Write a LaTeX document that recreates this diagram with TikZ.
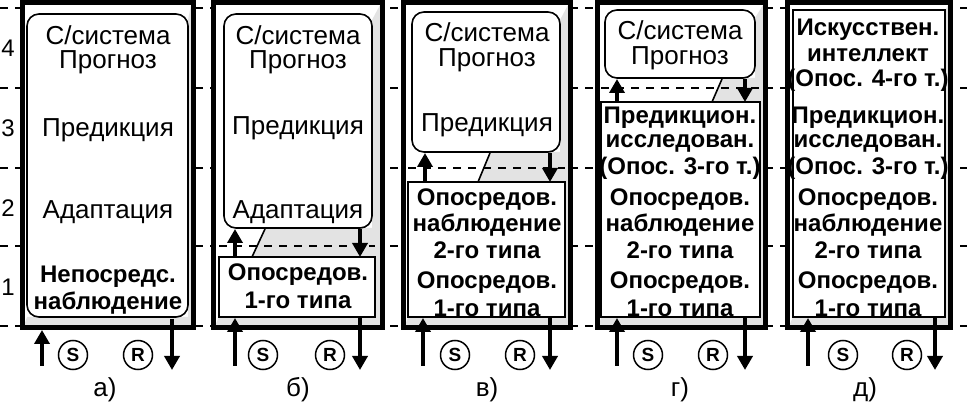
\documentclass[tikz,border=0pt]{standalone}
\usepackage{fontspec}
\setmainfont{Liberation Sans}
\usetikzlibrary{arrows.meta}
\tikzset{
 outerbox/.style={line width=5pt},
 shade/.style={fill=gray!22},
 rbox/.style={draw,line width=1.6pt,fill=white,rounded corners=12pt},
 sbox/.style={draw,line width=1.6pt,fill=white},
 lvl/.style={line width=1.3pt,dash pattern=on 8pt off 7pt},
 txt/.style={font=\fontsize{26}{30}\selectfont,inner sep=0pt},
 btxt/.style={font=\fontsize{24}{28}\selectfont\bfseries,inner sep=0pt},
 sig/.style={line width=4.5pt,-{Triangle[length=14pt,width=15pt]}},
 circ/.style={draw,circle,line width=1.5pt,minimum size=29pt,inner sep=0pt,font=\fontsize{19}{19}\selectfont\bfseries},
 captxt/.style={font=\fontsize{26}{26}\selectfont,inner sep=0pt},
 num/.style={font=\fontsize{24}{24}\selectfont,inner sep=0pt},
 slant/.style={line width=1.6pt}
}
\begin{document}
\begin{tikzpicture}[x=1pt,y=-1pt]
\useasboundingbox (0,0) rectangle (967,403);
% level lines
\foreach \yy in {8,88,168,246,326} \draw[lvl] (0,\yy) -- (967,\yy);
\node[num] (n4) at (8,48) {4};
\node[num] (n3) at (8,128) {3};
\node[num] (n2) at (8,208) {2};
\node[num] (n1) at (8,287) {1};
% ---------- panel a
\fill[white] (22,3) rectangle (193,328);
\fill[shade] (191,5) -- (191,326) -- (24,326) -- (27,317) -- (188,317) -- (188,20) -- cycle;
\draw[outerbox] (22,3) rectangle (193,328);
\draw[rbox] (27,14) rectangle (188,317);
\node[txt] (a1) at (108,35) {С/система};
\node[txt] (a2) at (108,62) {Прогноз};
\node[txt] (a3) at (108,130) {Предикция};
\node[txt] (a4) at (108,212) {Адаптация};
\node[btxt] (a5) at (108,277) {Непосредс.};
\node[btxt] (a6) at (108,303) {наблюдение};
\coordinate (aup0) at (42,366); \coordinate (aup1) at (42,330);
\coordinate (adn0) at (172,319); \coordinate (adn1) at (172,370);
\draw[sig] (aup0) -- (aup1); \draw[sig] (adn0) -- (adn1);
\node[circ] (aS) at (73,355) {S}; \node[circ] (aR) at (138,355) {R};
\node[captxt] (ac) at (105,390) {а)};
% ---------- panel b
\fill[white] (213,3) rectangle (382,328);
\fill[shade] (380,5) -- (380,326) -- (215,326) -- (219,317) -- (375,317) -- (375,257) -- (252,257) -- (265,228) -- (372,228) -- (372,20) -- cycle;
\draw[lvl] (219,246) -- (375,246);
\draw[outerbox] (213,3) rectangle (382,328);
\draw[rbox] (224,14) rectangle (372,228);
\draw[sbox] (219,257) rectangle (375,317);
\draw[slant] (265,229) -- (252,257);
\node[txt] (b1) at (298,35) {С/система};
\node[txt] (b2) at (298,62) {Прогноз};
\node[txt] (b3) at (298,128) {Предикция};
\node[txt] (b4) at (298,212) {Адаптация};
\node[btxt] (b5) at (298,275) {Опосредов.};
\node[btxt] (b6) at (298,300) {1-го типа};
\draw[sig] (235,257) -- (235,229);
\draw[sig] (360,229) -- (360,257);
\draw[sig] (235,366) -- (235,318);
\draw[sig] (360,318) -- (360,370);
\node[circ] (bS) at (263,355) {S}; \node[circ] (bR) at (330,355) {R};
\node[captxt] (bc) at (298,390) {б)};
% ---------- panel v
\fill[white] (403,3) rectangle (570,328);
\fill[shade] (568,5) -- (568,326) -- (405,326) -- (408,317) -- (565,317) -- (565,182) -- (478,182) -- (490,152) -- (560,152) -- (560,20) -- cycle;
\draw[lvl] (408,168) -- (565,168);
\draw[outerbox] (403,3) rectangle (570,328);
\draw[rbox] (412,12) rectangle (560,152);
\draw[sbox] (408,182) rectangle (565,317);
\draw[slant] (490,153) -- (478,182);
\node[txt] (v1) at (487,32) {С/система};
\node[txt] (v2) at (487,60) {Прогноз};
\node[txt] (v3) at (487,125) {Предикция};
\node[btxt] (v4) at (487,200) {Опосредов.};
\node[btxt] (v5) at (487,225) {наблюдение};
\node[btxt] (v6) at (487,250) {2-го типа};
\node[btxt] (v7) at (487,283) {Опосредов.};
\node[btxt] (v8) at (487,308) {1-го типа};
\draw[sig] (425,182) -- (425,153);
\draw[sig] (550,153) -- (550,182);
\draw[sig] (423,366) -- (423,318);
\draw[sig] (550,318) -- (550,370);
\node[circ] (vS) at (455,355) {S}; \node[circ] (vR) at (520,355) {R};
\node[captxt] (vc) at (487,390) {в)};
% ---------- panel g
\fill[white] (597,3) rectangle (765,328);
\fill[shade] (763,5) -- (763,326) -- (599,326) -- (601,317) -- (760,317) -- (760,102) -- (712,102) -- (722,78) -- (755,78) -- (755,18) -- cycle;
\draw[lvl] (601,88) -- (760,88);
\draw[outerbox] (597,3) rectangle (765,328);
\draw[rbox] (605,10) rectangle (755,78);
\draw[sbox] (601,102) rectangle (760,317);
\draw[slant] (722,79) -- (712,102);
\node[txt] (g1) at (680,30) {С/система};
\node[txt] (g2) at (680,58) {Прогноз};
\node[btxt] (g3) at (680,118) {Предикцион.};
\node[btxt] (g4) at (680,143) {исследован.};
\node[btxt] (g5) at (680,168) {(Опос. 3-го т.)};
\node[btxt] (g6) at (680,200) {Опосредов.};
\node[btxt] (g7) at (680,225) {наблюдение};
\node[btxt] (g8) at (680,250) {2-го типа};
\node[btxt] (g9) at (680,283) {Опосредов.};
\node[btxt] (g10) at (680,308) {1-го типа};
\draw[sig] (617,102) -- (617,79);
\draw[sig] (745,79) -- (745,102);
\draw[sig] (617,366) -- (617,318);
\draw[sig] (745,318) -- (745,370);
\node[circ] (gS) at (648,355) {S}; \node[circ] (gR) at (713,355) {R};
\node[captxt] (gc) at (680,390) {г)};
% ---------- panel d
\fill[white] (787,3) rectangle (950,328);
\fill[shade] (948,5) -- (948,326) -- (789,326) -- (793,317) -- (945,317) -- (945,12) -- cycle;
\draw[outerbox] (787,3) rectangle (950,328);
\draw[sbox] (793,10) rectangle (945,317);
\node[btxt] (d1) at (868,30) {Искусствен.};
\node[btxt] (d2) at (868,55) {интеллект};
\node[btxt] (d3) at (868,80) {(Опос. 4-го т.)};
\node[btxt] (d4) at (868,118) {Предикцион.};
\node[btxt] (d5) at (868,143) {исследован.};
\node[btxt] (d6) at (868,168) {(Опос. 3-го т.)};
\node[btxt] (d7) at (868,200) {Опосредов.};
\node[btxt] (d8) at (868,225) {наблюдение};
\node[btxt] (d9) at (868,250) {2-го типа};
\node[btxt] (d10) at (868,283) {Опосредов.};
\node[btxt] (d11) at (868,308) {1-го типа};
\draw[sig] (808,366) -- (808,318);
\draw[sig] (935,318) -- (935,370);
\node[circ] (dS) at (843,355) {S}; \node[circ] (dR) at (907,355) {R};
\node[captxt] (dc) at (865,390) {д)};
\end{tikzpicture}
\end{document}
